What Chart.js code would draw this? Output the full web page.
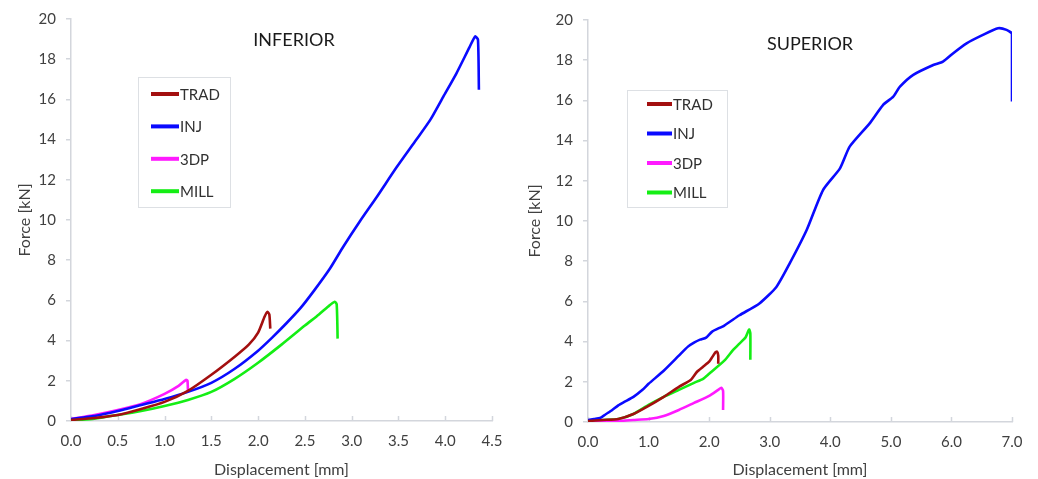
<!DOCTYPE html>
<html>
<head>
<meta charset="utf-8">
<script src="https://cdn.jsdelivr.net/npm/chart.js@4.4.1/dist/chart.umd.min.js"></script>
<style>
  html, body { margin: 0; padding: 0; background: #fff; }
  #wrap { position: relative; width: 1038px; height: 479px; overflow: hidden; }
  .panel { position: absolute; top: 0; height: 479px; }
</style>
</head>
<body>
<div id="wrap">
  <div class="panel" style="left:0;width:520px"><canvas id="cInferior" width="520" height="479"></canvas></div>
  <div class="panel" style="left:520px;width:518px"><canvas id="cSuperior" width="518" height="479"></canvas></div>
</div>
<script>
// ─── Datos ────────────────────────────────────────────────────────
const seriesNames  = ['TRAD', 'INJ', '3DP', 'MILL'];
const seriesColors = ['#a30f0f', '#0a0aff', '#ff1aff', '#14ee14'];

// INFERIOR  (desplazamiento mm / fuerza kN)
const infTradX = [0, 0.25, 0.5, 0.75, 1.0, 1.25, 1.5, 1.75, 1.9, 2.0, 2.07, 2.1, 2.12, 2.13];
const infTradY = [0.05, 0.15, 0.3, 0.6, 0.95, 1.5, 2.3, 3.2, 3.8, 4.4, 5.2, 5.43, 5.3, 4.6];
const infInjX  = [0, 0.25, 0.5, 0.75, 1.0, 1.25, 1.5, 1.75, 2.0, 2.15, 2.3, 2.45, 2.6, 2.77, 2.91, 3.09, 3.27, 3.48, 3.69, 3.84, 3.98, 4.12, 4.26, 4.32, 4.35, 4.36];
const infInjY  = [0.1, 0.25, 0.5, 0.8, 1.1, 1.45, 1.9, 2.6, 3.5, 4.15, 4.85, 5.6, 6.5, 7.6, 8.67, 9.95, 11.16, 12.62, 13.99, 14.98, 16.14, 17.3, 18.6, 19.13, 18.97, 16.48];
const inf3dpX  = [0, 0.25, 0.5, 0.75, 1.0, 1.15, 1.23, 1.245, 1.25];
const inf3dpY  = [0.1, 0.3, 0.55, 0.85, 1.35, 1.75, 2.05, 2.0, 1.5];
const infMillX = [0, 0.25, 0.5, 0.75, 1.0, 1.25, 1.5, 1.75, 2.0, 2.25, 2.5, 2.65, 2.75, 2.82, 2.84, 2.85];
const infMillY = [0.02, 0.12, 0.3, 0.5, 0.75, 1.05, 1.45, 2.1, 2.9, 3.8, 4.75, 5.3, 5.7, 5.93, 5.8, 4.1];

// SUPERIOR
const supTradX = [0, 0.25, 0.5, 0.75, 1.0, 1.25, 1.5, 1.7, 1.8, 1.9, 2.0, 2.1, 2.13, 2.15, 2.15];
const supTradY = [0.05, 0.1, 0.15, 0.4, 0.8, 1.25, 1.75, 2.1, 2.5, 2.75, 3.0, 3.45, 3.5, 3.3, 2.9];
const supInjX  = [0, 0.1, 0.2, 0.3, 0.4, 0.5, 0.6, 0.75, 0.9, 1.0, 1.25, 1.5, 1.65, 1.75, 1.85, 1.95, 2.05, 2.25, 2.5, 2.83, 3.11, 3.33, 3.61, 3.88, 4.16, 4.32, 4.65, 4.87, 5.04, 5.15, 5.37, 5.7, 5.86, 6.03, 6.25, 6.52, 6.77, 6.91, 7.0, 7.0];
const supInjY  = [0.1, 0.15, 0.2, 0.4, 0.6, 0.83, 1.0, 1.25, 1.6, 1.9, 2.55, 3.3, 3.75, 3.95, 4.1, 4.2, 4.5, 4.8, 5.31, 5.9, 6.72, 7.89, 9.55, 11.54, 12.62, 13.7, 14.86, 15.77, 16.19, 16.68, 17.27, 17.76, 17.93, 18.35, 18.84, 19.26, 19.59, 19.51, 19.31, 15.94];
const sup3dpX  = [0, 0.5, 0.75, 1.0, 1.25, 1.5, 1.75, 2.0, 2.15, 2.2, 2.23, 2.23];
const sup3dpY  = [0.05, 0.05, 0.1, 0.15, 0.3, 0.6, 0.95, 1.3, 1.6, 1.7, 1.55, 0.6];
const supMillX = [0, 0.25, 0.5, 0.75, 1.0, 1.25, 1.5, 1.75, 1.9, 2.0, 2.25, 2.4, 2.5, 2.6, 2.66, 2.68, 2.68];
const supMillY = [0.05, 0.1, 0.15, 0.4, 0.85, 1.25, 1.6, 1.95, 2.15, 2.4, 3.05, 3.6, 3.9, 4.2, 4.6, 4.4, 3.1];

const yTicks = [0, 2, 4, 6, 8, 10, 12, 14, 16, 18, 20];

// ─── Estilos ──────────────────────────────────────────────────────
const FONT = 'Lato, "Open Sans", sans-serif';
const AXIS_GREY = '#d3d6dc';
const TEXT_GREY = '#404040';

function toPoints(xs, ys) {
    return xs.map((x, i) => ({ x: x, y: ys[i] }));
}

function buildDatasets(pairs) {
    return pairs.map((p, i) => ({
        label: seriesNames[i],
        data: toPoints(p[0], p[1]),
        borderColor: seriesColors[i],
        backgroundColor: seriesColors[i],
        borderWidth: 2.6,
        pointRadius: 0,
        tension: 0.2,
        fill: false
    }));
}

// Plugin: título interno, leyenda con recuadro y marcas del eje X hacia dentro
const panelDecor = {
    id: 'panelDecor',
    beforeDatasetsDraw(chart, args, opts) {
        const ctx = chart.ctx;
        const xs = chart.scales.x;
        const bottom = chart.chartArea.bottom;
        ctx.save();
        ctx.strokeStyle = AXIS_GREY;
        ctx.lineWidth = 1.5;
        xs.ticks.forEach(t => {
            const px = Math.round(xs.getPixelForValue(t.value)) + 0.5;
            ctx.beginPath();
            ctx.moveTo(px, bottom);
            ctx.lineTo(px, bottom - 5);
            ctx.stroke();
        });
        ctx.restore();
    },
    afterDraw(chart, args, opts) {
        const ctx = chart.ctx;
        ctx.save();
        // Título
        ctx.fillStyle = '#1a1a1a';
        ctx.font = '18px ' + FONT;
        ctx.textAlign = 'center';
        ctx.textBaseline = 'middle';
        ctx.fillText(opts.title, opts.titleX, opts.titleY);

        // Leyenda
        const lg = opts.legend;
        ctx.strokeStyle = '#dde0e4';
        ctx.lineWidth = 1;
        ctx.strokeRect(lg.x + 0.5, lg.y + 0.5, lg.w, lg.h);
        ctx.font = '15px ' + FONT;
        ctx.textAlign = 'left';
        chart.data.datasets.forEach((ds, i) => {
            const y = lg.firstY + i * lg.gap;
            ctx.strokeStyle = ds.borderColor;
            ctx.lineWidth = 4;
            ctx.beginPath();
            ctx.moveTo(lg.sx, y);
            ctx.lineTo(lg.sx + lg.sw, y);
            ctx.stroke();
            ctx.fillStyle = '#303030';
            ctx.fillText(ds.label, lg.sx + lg.sw + 1, y + 1);
        });
        ctx.restore();
    }
};

function makeChart(canvasId, datasets, xMax, xStep, lay) {
    return new Chart(document.getElementById(canvasId), {
        type: 'line',
        data: { datasets: datasets },
        plugins: [panelDecor],
        options: {
            responsive: false,
            animation: false,
            layout: { padding: { left: 0, right: lay.padRight, top: lay.padTop, bottom: 0 } },
            plugins: {
                legend: { display: false },
                tooltip: { enabled: false },
                panelDecor: lay.decor
            },
            scales: {
                x: {
                    type: 'linear',
                    min: 0,
                    max: xMax,
                    afterFit: (s) => { s.height = lay.xAxisH; },
                    ticks: {
                        stepSize: xStep,
                        color: TEXT_GREY,
                        font: { family: FONT, size: 15 },
                        padding: 11,
                        maxRotation: 0,
                        callback: (v) => Number(v).toFixed(1)
                    },
                    grid: { display: false, drawTicks: false },
                    border: { display: true, color: AXIS_GREY, width: 1.5 },
                    title: {
                        display: true,
                        text: 'Displacement [mm]',
                        color: TEXT_GREY,
                        font: { family: FONT, size: 16 },
                        padding: { top: 0, bottom: 0 }
                    }
                },
                y: {
                    min: 0,
                    max: 20,
                    afterFit: (s) => { s.width = lay.yAxisW; },
                    afterBuildTicks: (s) => { s.ticks = yTicks.map(v => ({ value: v })); },
                    ticks: {
                        color: TEXT_GREY,
                        font: { family: FONT, size: 15 },
                        padding: 10
                    },
                    grid: { display: true, drawOnChartArea: false, drawTicks: true, tickLength: 5, color: AXIS_GREY, lineWidth: 1.5 },
                    border: { display: true, color: AXIS_GREY, width: 1.5 },
                    title: {
                        display: true,
                        text: 'Force [kN]',
                        color: TEXT_GREY,
                        font: { family: FONT, size: 16 },
                        padding: { top: lay.yTitlePad, bottom: 0 }
                    }
                }
            }
        }
    });
}

makeChart('cInferior',
    buildDatasets([[infTradX, infTradY], [infInjX, infInjY], [inf3dpX, inf3dpY], [infMillX, infMillY]]),
    4.5, 0.5,
    {
        padRight: 28, padTop: 19, xAxisH: 58, yAxisW: 71, yTitlePad: 15,
        decor: {
            title: 'INFERIOR', titleX: 294, titleY: 40,
            legend: { x: 138, y: 77, w: 92, h: 130, sx: 151, sw: 28, firstY: 94, gap: 32.4 }
        }
    });

makeChart('cSuperior',
    buildDatasets([[supTradX, supTradY], [supInjX, supInjY], [sup3dpX, sup3dpY], [supMillX, supMillY]]),
    7.0, 1.0,
    {
        padRight: 26, padTop: 20, xAxisH: 57, yAxisW: 68, yTitlePad: 5,
        decor: {
            title: 'SUPERIOR', titleX: 290, titleY: 44,
            legend: { x: 107, y: 90, w: 100, h: 117, sx: 127, sw: 25, firstY: 104, gap: 29.5 }
        }
    });
</script>
</body>
</html>
